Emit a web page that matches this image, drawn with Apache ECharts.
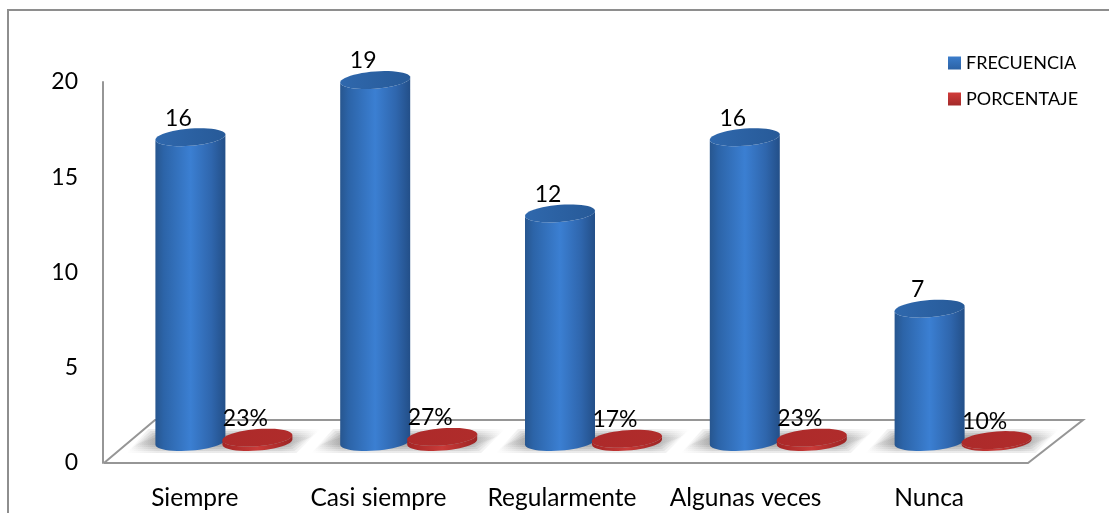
<!DOCTYPE html>
<html>
<head>
<meta charset="utf-8">
<style>html,body{margin:0;padding:0;background:#fff}#c{width:1109px;height:513px}</style>
<script src="https://cdn.jsdelivr.net/npm/echarts@6/dist/echarts.min.js"></script>
</head>
<body>
<div id="c"></div>
<script>
const categories = ['Siempre', 'Casi siempre', 'Regularmente', 'Algunas veces', 'Nunca'];
const frecuencia = [16, 19, 12, 16, 7];
const porcentaje = [23, 27, 17, 23, 10];
const yTicks = { min: 0, max: 20, interval: 5 };

const FONT = 'Lato, "Noto Sans", sans-serif';
const RX = 35, RY = 8.6, TILT = 2.6;

// Outline of a slightly tilted cylinder: top rim, then the lower half of the base.
function ellipsePoint(cx, cy, t) {
  return [cx + RX * Math.cos(t), cy + RY * Math.sin(t) - TILT * Math.cos(t)];
}
function ellipse(cx, cy) {
  const pts = [];
  for (let i = 0; i < 48; i++) pts.push(ellipsePoint(cx, cy, i / 48 * Math.PI * 2));
  return pts;
}
function body(cx, topY, baseY) {
  const pts = [];
  for (let i = 0; i <= 24; i++) pts.push(ellipsePoint(cx, baseY, i / 24 * Math.PI));
  for (let i = 24; i >= 0; i--) pts.push(ellipsePoint(cx, topY, i / 24 * Math.PI));
  return pts;
}
function hGrad(stops) {
  return new echarts.graphic.LinearGradient(0, 0, 1, 0,
    stops.map(s => ({ offset: s[0], color: s[1] })));
}
const bluePalette = {
  side: [[0, '#27568f'], [0.12, '#2c64a8'], [0.5, '#3b7fd2'], [0.8, '#2f66ad'], [1, '#234f88']],
  cap: [[0, '#2f68ad'], [1, '#275a98']]
};
const redPalette = {
  side: [[0, '#a52525'], [0.5, '#c93a38'], [1, '#9c2424']],
  cap: [[0, '#ad2a2a'], [1, '#b02c2b']]
};
// Stacked layers (spread, opacity) build a soft edge for the floor shadow
const shadowLayers = [[6, 0.16], [4, 0.18], [2, 0.2], [0, 0.24], [-2, 0.26]];

function cylinder(api, palette, value, offsetX, label, withShadow) {
  const base = api.coord([api.value(0), 0]);
  const top = api.coord([api.value(0), value]);
  const cx = base[0] + offsetX;
  const children = [];
  if (withShadow) {
    shadowLayers.forEach(([d, alpha]) => {
      const fill = hGrad([
        [0, 'rgba(125,125,125,0)'], [0.16, 'rgba(125,125,125,' + alpha + ')'],
        [0.8, 'rgba(125,125,125,' + alpha + ')'], [1, 'rgba(125,125,125,0)']
      ]);
      children.push({
        type: 'polygon', silent: true,
        shape: { points: [
          [cx - 58 - d, base[1] + 5 + d], [cx - 36 - d, base[1] - 7 - d],
          [cx + 124 + d, base[1] - 7 - d], [cx + 100 + d, base[1] + 5 + d]
        ] },
        style: { fill }
      });
    });
  }
  children.push({
    type: 'polygon', silent: true,
    shape: { points: body(cx, top[1], base[1]) },
    style: { fill: hGrad(palette.side) }
  });
  children.push({
    type: 'polygon', silent: true,
    shape: { points: ellipse(cx, top[1]) },
    style: { fill: hGrad(palette.cap) }
  });
  children.push({
    type: 'text', silent: true,
    style: {
      x: cx - 12, y: top[1] - 19, text: label,
      fill: '#000', font: '23px ' + FONT, align: 'center', verticalAlign: 'middle'
    }
  });
  return { type: 'group', children };
}

const chart = echarts.init(document.getElementById('c'), null, { renderer: 'canvas' });
const blueLegend = new echarts.graphic.LinearGradient(0, 0, 0, 1, [
  { offset: 0, color: '#3b7dcb' }, { offset: 1, color: '#2c62a5' }]);
const redLegend = new echarts.graphic.LinearGradient(0, 0, 0, 1, [
  { offset: 0, color: '#d23c3a' }, { offset: 1, color: '#a32a2a' }]);

chart.setOption({
  animation: false,
  backgroundColor: '#fff',
  textStyle: { fontFamily: FONT },
  legend: {
    orient: 'vertical', left: 943, top: 49, itemWidth: 13, itemHeight: 13, itemGap: 18,
    textStyle: { fontSize: 18, color: '#000', fontFamily: FONT },
    data: [
      { name: 'FRECUENCIA', icon: 'rect', itemStyle: { color: blueLegend } },
      { name: 'PORCENTAJE', icon: 'rect', itemStyle: { color: redLegend } }
    ]
  },
  // First grid carries the printed scale; second one places the columns on the floor.
  grid: [
    { left: 103, width: 918, top: 82, height: 381 },
    { left: 98, width: 924, top: 61, height: 381 }
  ],
  xAxis: [
    {
      gridIndex: 0, type: 'category', data: categories,
      axisLine: { show: false }, axisTick: { show: false },
      axisLabel: { fontSize: 24.5, color: '#000', fontFamily: FONT, margin: 23, interval: 0 }
    },
    { gridIndex: 1, type: 'category', data: categories, show: false }
  ],
  yAxis: [
    {
      gridIndex: 0, type: 'value', min: yTicks.min, max: yTicks.max, interval: yTicks.interval,
      splitLine: { show: false }, axisTick: { show: false },
      axisLine: { show: true, lineStyle: { color: '#969696', width: 2 } },
      axisLabel: { fontSize: 23, color: '#000', fontFamily: FONT, margin: 25, padding: [3, 0, 0, 0] }
    },
    { gridIndex: 1, type: 'value', min: yTicks.min, max: yTicks.max, show: false }
  ],
  graphic: [
    { type: 'rect', z: 0, silent: true, shape: { x: 8, y: 10, width: 1200, height: 600 },
      style: { fill: 'none', stroke: '#8e8e8e', lineWidth: 2 } },
    // Chart floor
    { type: 'polyline', z: 0, silent: true,
      shape: { points: [[104, 463], [155, 420], [1083, 420], [1028, 463], [104, 463]] },
      style: { fill: '#fff', stroke: '#969696', lineWidth: 2 } }
  ],
  series: [
    {
      name: 'FRECUENCIA', type: 'custom', xAxisIndex: 1, yAxisIndex: 1, z: 3,
      data: categories.map((c, i) => [i, frecuencia[i]]),
      itemStyle: { color: blueLegend },
      renderItem: (params, api) =>
        cylinder(api, bluePalette, api.value(1), 0, String(api.value(1)), true)
    },
    {
      name: 'PORCENTAJE', type: 'custom', xAxisIndex: 1, yAxisIndex: 1, z: 4,
      data: categories.map((c, i) => [i, porcentaje[i]]),
      itemStyle: { color: redLegend },
      renderItem: (params, api) =>
        cylinder(api, redPalette, api.value(1) / 100, 67, api.value(1) + '%', false)
    }
  ]
});
</script>
</body>
</html>
